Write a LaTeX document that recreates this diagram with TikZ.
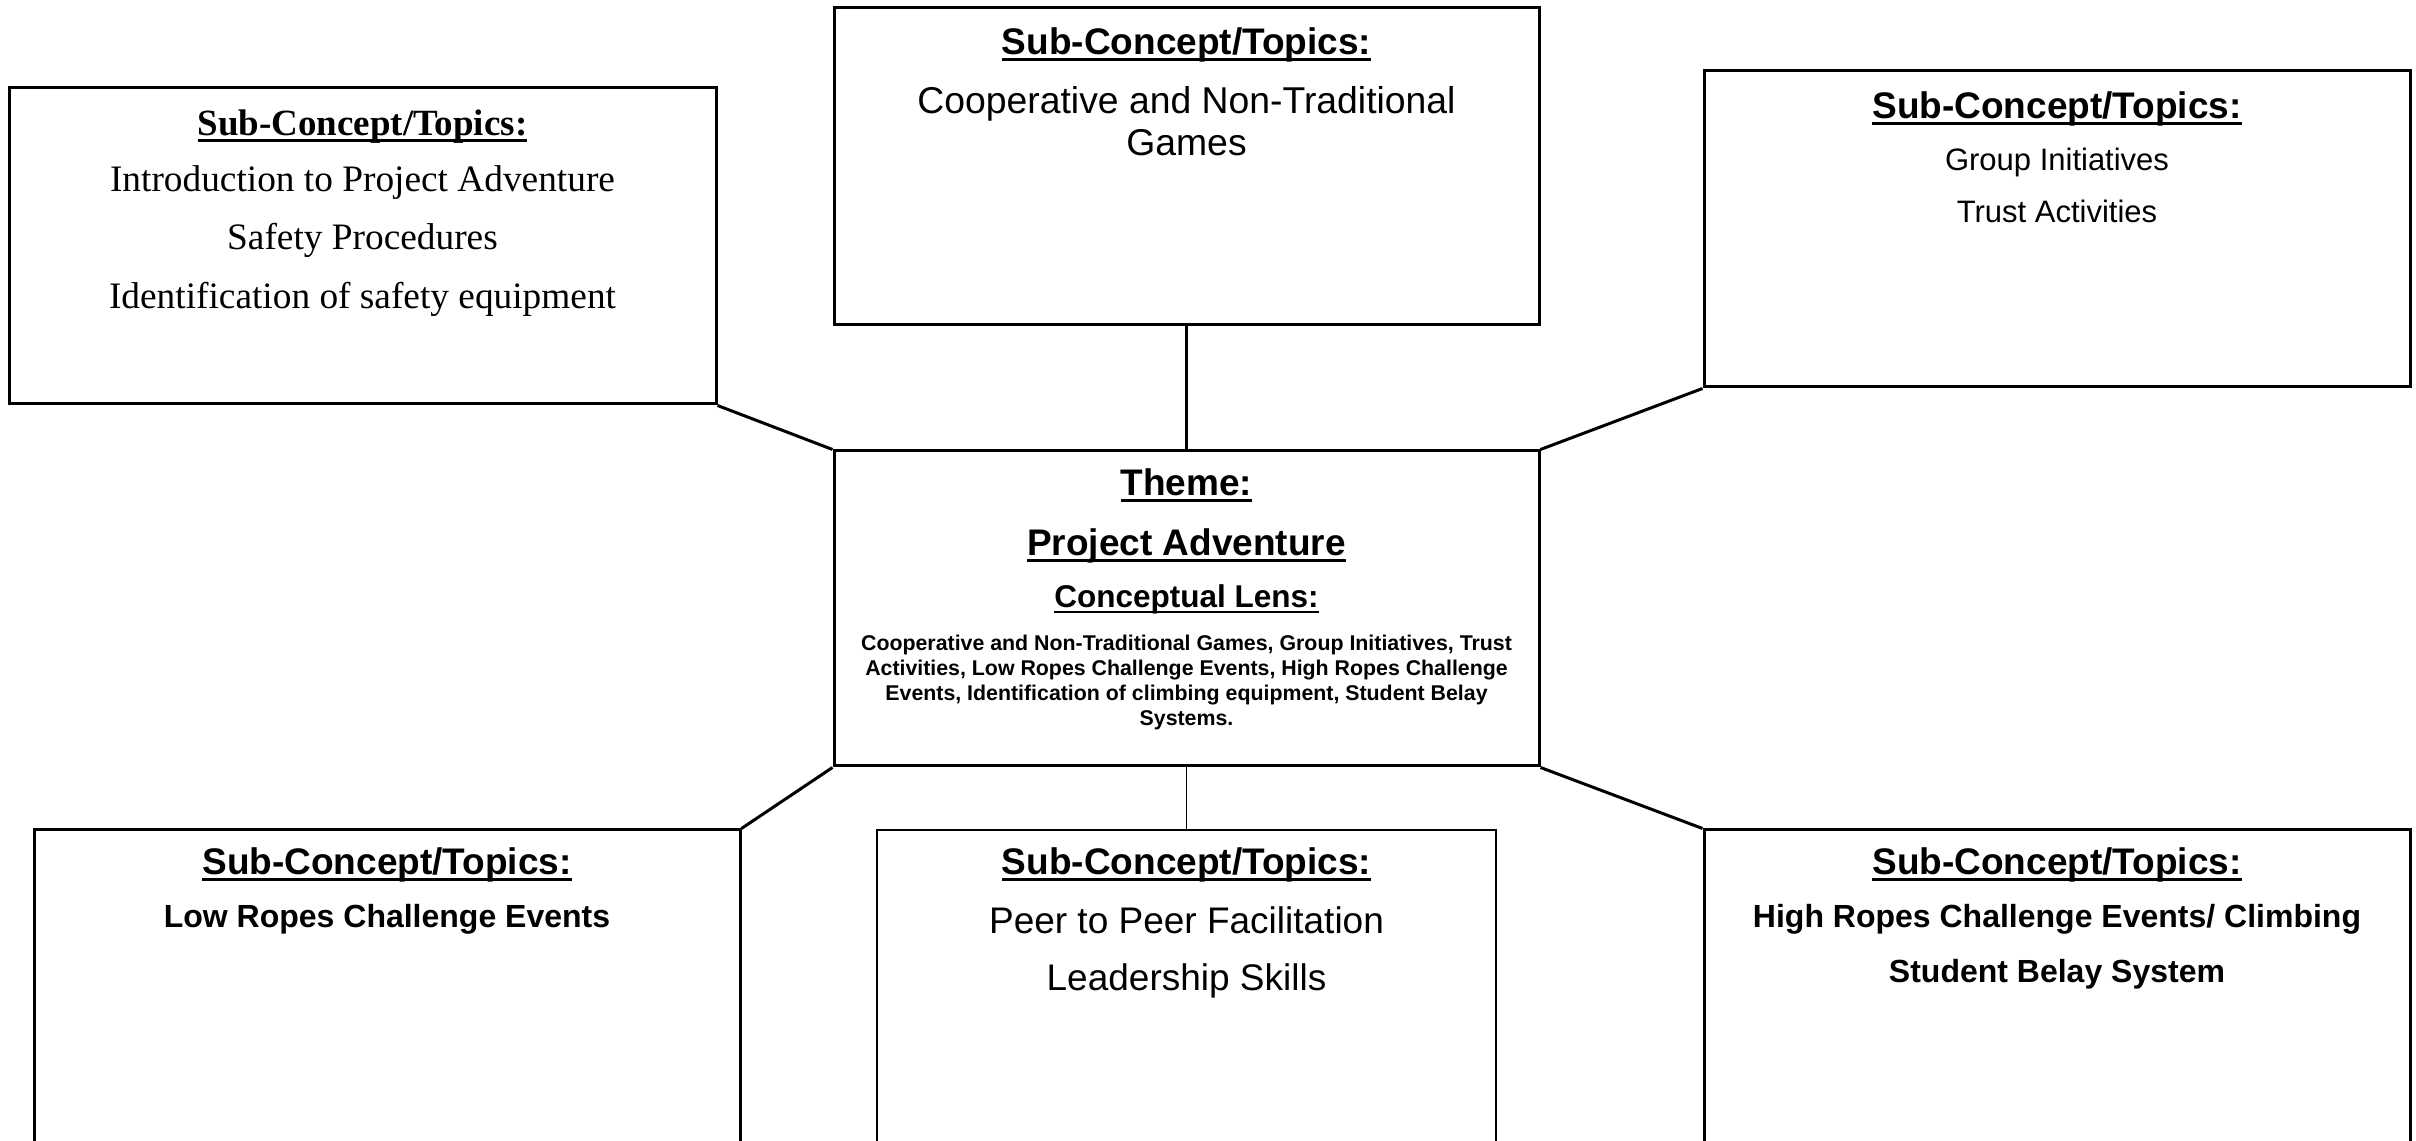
\documentclass[tikz,border=0pt]{standalone}
\usepackage{fontspec}
\setmainfont{Liberation Serif}
\newfontfamily\arial{Liberation Sans}
\usetikzlibrary{fit}

% underline drawn as a rule under a box
\newcommand{\ulined}[1]{\setbox0=\hbox{#1}\leavevmode\rlap{\rule[-0.16em]{\wd0}{0.08em}}\box0}

\tikzset{
  boxframe/.style={draw, line width=0.9pt, inner sep=0pt, rectangle},
  thinframe/.style={draw, line width=0.4pt, inner sep=0pt, rectangle},
  txt/.style={anchor=base, inner sep=0pt, align=center},
  link/.style={line width=0.9pt},
  thinlink/.style={line width=0.45pt},
  hdsans/.style={font=\arial\fontsize{11.1pt}{13pt}\selectfont\bfseries},
  hdserif/.style={font=\fontsize{11.1pt}{13pt}\selectfont\bfseries},
}

\begin{document}
\begin{tikzpicture}[x=0.3pt,y=-0.3pt]
\useasboundingbox (0,0) rectangle (2416,1141);
\clip (0,0) rectangle (2416,1141);

% frames
\node[boxframe, fit={(9,88) (716,404)}] (tl) {};
\node[boxframe, fit={(834,8) (1539,325)}] (tc) {};
\node[boxframe, fit={(1704,71) (2410,387)}] (tr) {};
\node[boxframe, fit={(834,451) (1539,766)}] (c) {};
\node[boxframe, fit={(34,830) (740,1170)}] (bl) {};
\node[thinframe, fit={(877,830) (1496,1170)}] (bc) {};
\node[boxframe, fit={(1704,830) (2410,1170)}] (br) {};

% connectors
\draw[link] (tc.south) -- (c.north);
\draw[link] (tl.south east) -- (c.north west);
\draw[link] (tr.south west) -- (c.north east);
\draw[link] (c.south west) -- (bl.north east);
\draw[link] (c.south east) -- (br.north west);
\draw[thinlink] (c.south) -- (bc.north);

% top left
\node[txt, hdserif] (tlh) at (362.5,136) {\ulined{Sub-Concept/Topics:}};
\node[txt, font=\fontsize{11.2pt}{13pt}\selectfont] (tl1) at (362.5,192) {Introduction to Project Adventure};
\node[txt, font=\fontsize{11.2pt}{13pt}\selectfont] (tl2) at (362.5,250) {Safety Procedures};
\node[txt, font=\fontsize{11.2pt}{13pt}\selectfont] (tl3) at (362.5,309) {Identification of safety equipment};

% top centre
\node[txt, hdsans] (tch) at (1186.5,55) {\ulined{Sub-Concept/Topics:}};
\node[txt, font=\arial\fontsize{11.2pt}{13pt}\selectfont] (tc1) at (1186.5,114) {Cooperative and Non-Traditional};
\node[txt, font=\arial\fontsize{11.2pt}{13pt}\selectfont] (tc2) at (1186.5,156) {Games};

% top right
\node[txt, hdsans] (trh) at (2057,119) {\ulined{Sub-Concept/Topics:}};
\node[txt, font=\arial\fontsize{9.3pt}{11pt}\selectfont] (tr1) at (2057,171) {Group Initiatives};
\node[txt, font=\arial\fontsize{9.3pt}{11pt}\selectfont] (tr2) at (2057,223) {Trust Activities};

% centre theme
\node[txt, hdsans] (ct1) at (1186.5,496) {\ulined{Theme:}};
\node[txt, hdsans] (ct2) at (1186.5,556) {\ulined{Project Adventure}};
\node[txt, font=\arial\fontsize{9.45pt}{11pt}\selectfont\bfseries] (ct3) at (1186.5,608) {\ulined{Conceptual Lens:}};
\node[txt, font=\arial\fontsize{6.4pt}{7.4pt}\selectfont\bfseries] (ct4) at (1186.5,651) {Cooperative and Non-Traditional Games, Group Initiatives, Trust};
\node[txt, font=\arial\fontsize{6.4pt}{7.4pt}\selectfont\bfseries] (ct5) at (1186.5,676) {Activities, Low Ropes Challenge Events, High Ropes Challenge};
\node[txt, font=\arial\fontsize{6.4pt}{7.4pt}\selectfont\bfseries] (ct6) at (1186.5,701) {Events, Identification of climbing equipment, Student Belay};
\node[txt, font=\arial\fontsize{6.4pt}{7.4pt}\selectfont\bfseries] (ct7) at (1186.5,726) {Systems.};

% bottom left
\node[txt, hdsans] (blh) at (387,875) {\ulined{Sub-Concept/Topics:}};
\node[txt, font=\arial\fontsize{9.6pt}{11pt}\selectfont\bfseries] (bl1) at (387,928) {Low Ropes Challenge Events};

% bottom centre
\node[txt, hdsans] (bch) at (1186.5,875) {\ulined{Sub-Concept/Topics:}};
\node[txt, font=\arial\fontsize{11.1pt}{13pt}\selectfont] (bc1) at (1186.5,934) {Peer to Peer Facilitation};
\node[txt, font=\arial\fontsize{11.1pt}{13pt}\selectfont] (bc2) at (1186.5,991) {Leadership Skills};

% bottom right
\node[txt, hdsans] (brh) at (2057,875) {\ulined{Sub-Concept/Topics:}};
\node[txt, font=\arial\fontsize{9.6pt}{11pt}\selectfont\bfseries] (br1) at (2057,928) {High Ropes Challenge Events/ Climbing};
\node[txt, font=\arial\fontsize{9.6pt}{11pt}\selectfont\bfseries] (br2) at (2057,983) {Student Belay System};
\end{tikzpicture}
\end{document}
